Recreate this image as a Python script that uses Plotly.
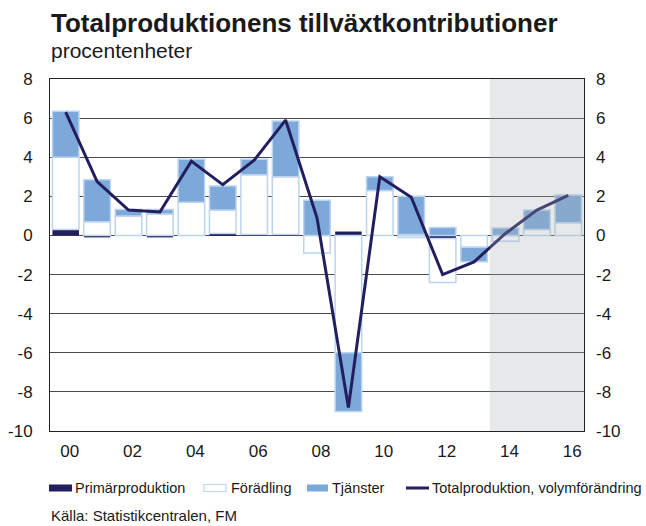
import plotly.graph_objects as go

years = list(range(2000, 2017))
tick_years = [2000, 2002, 2004, 2006, 2008, 2010, 2012, 2014, 2016]
tick_text = ["00", "02", "04", "06", "08", "10", "12", "14", "16"]

primar = [0.3, -0.1, 0.0, -0.1, 0.0, 0.1, 0.05, 0.05, 0.0, 0.2, 0.0, 0.05, -0.15, 0.0, 0.0, 0.0, 0.0]
foradling = [3.7, 0.7, 1.0, 1.1, 1.7, 1.2, 3.05, 2.95, -0.9, -6.0, 2.3, -0.1, -2.25, -0.6, -0.3, 0.3, 0.65]
tjanster = [2.35, 2.15, 0.33, 0.23, 2.2, 1.23, 0.8, 2.85, 1.8, -3.0, 0.7, 1.95, 0.4, -0.75, 0.38, 1.0, 1.42]
total = [6.3, 2.75, 1.3, 1.2, 3.8, 2.6, 3.85, 5.9, 0.9, -8.8, 3.0, 1.95, -2.0, -1.35, 0.1, 1.3, 2.05]

legend_names = ["Primärproduktion", "Förädling", "Tjänster", "Totalproduktion, volymförändring"]
y_ticks = list(range(-10, 9, 2))
y_tick_text = [str(v) for v in y_ticks]

NAVY = "#231F5E"
BLUE = "#7CA8DA"
LIGHT = "#BDD4EE"
TXT = "#1a1a1a"
FONT = "Liberation Sans, Arial, sans-serif"

W, H = 646, 526
L, R, T, B = 50, 62, 79, 95
PW, PH = W - L - R, H - T - B


def px(x):
    return (x - L) / PW


def py(y):
    return (H - B - y) / PH


fig = go.Figure()
fig.add_trace(go.Bar(x=years, y=primar, name=legend_names[0],
                     marker=dict(color=NAVY, line=dict(color=NAVY, width=0))))
fig.add_trace(go.Bar(x=years, y=foradling, name=legend_names[1],
                     marker=dict(color="white", line=dict(color=LIGHT, width=1.5))))
fig.add_trace(go.Bar(x=years, y=tjanster, name=legend_names[2],
                     marker=dict(color=BLUE, line=dict(color=LIGHT, width=1.5))))
fig.add_trace(go.Scatter(x=years, y=total, name=legend_names[3],
                         mode="lines", line=dict(color=NAVY, width=3)))
fig.add_trace(go.Scatter(x=years, y=total, yaxis="y2", mode="lines",
                         line=dict(width=0), opacity=0, showlegend=False, hoverinfo="skip"))

# forecast shading
fig.add_shape(type="rect", xref="x", yref="y", x0=2013.5, x1=2016.5, y0=-10, y1=8,
              fillcolor="rgba(170,172,176,0.28)", line=dict(width=0), layer="above")

# manual legend
ly = 488
fig.add_shape(type="rect", xref="paper", yref="paper", x0=px(49), x1=px(72), y0=py(491.5), y1=py(484.5),
              fillcolor=NAVY, line=dict(width=0))
fig.add_shape(type="rect", xref="paper", yref="paper", x0=px(204), x1=px(226), y0=py(491.5), y1=py(484.5),
              fillcolor="white", line=dict(color=LIGHT, width=1.2))
fig.add_shape(type="rect", xref="paper", yref="paper", x0=px(307), x1=px(328), y0=py(491.5), y1=py(484.5),
              fillcolor=BLUE, line=dict(width=0))
fig.add_shape(type="line", xref="paper", yref="paper", x0=px(406), x1=px(429), y0=py(ly), y1=py(ly),
              line=dict(color=NAVY, width=3))

annotations = [
    dict(text="<b>Totalproduktionens tillväxtkontributioner</b>", x=px(49), y=py(23),
         font=dict(size=26, color=TXT, family=FONT)),
    dict(text="procentenheter", x=px(49), y=py(51),
         font=dict(size=21, color=TXT, family=FONT)),
    dict(text="Källa: Statistikcentralen, FM", x=px(49), y=py(515),
         font=dict(size=15, color=TXT, family=FONT)),
]
for name, xpos in zip(legend_names, [73, 229, 330, 430]):
    annotations.append(dict(text=name, x=px(xpos), y=py(ly), font=dict(size=14.5, color=TXT, family=FONT)))
for a in annotations:
    a.update(xref="paper", yref="paper", xanchor="left", yanchor="middle", showarrow=False)

fig.update_layout(
    width=W, height=H,
    margin=dict(l=L, r=R, t=T, b=B, autoexpand=False),
    paper_bgcolor="white", plot_bgcolor="white",
    barmode="relative", bargap=0.155,
    font=dict(family=FONT, size=17, color=TXT),
    showlegend=False,
    xaxis=dict(range=[1999.5, 2016.5], tickmode="array", tickvals=tick_years, ticktext=tick_text,
               showgrid=False, zeroline=False, showline=True, linecolor="#222", linewidth=1,
               mirror=True, ticks="", ticklabelstandoff=5, ticklabelshift=4, automargin=False,
               tickfont=dict(size=17, color=TXT)),
    yaxis=dict(range=[-10, 8], tickmode="array", tickvals=y_ticks, ticktext=y_tick_text, showgrid=True,
               gridcolor="#4a4a4a", gridwidth=1, zeroline=True, zerolinecolor="#4a4a4a", zerolinewidth=1,
               showline=True, linecolor="#222", linewidth=1, mirror=True, ticks="", automargin=False,
               ticklabelstandoff=13, tickfont=dict(size=17, color=TXT)),
    yaxis2=dict(range=[-10, 8], tickmode="array", tickvals=y_ticks, ticktext=y_tick_text,
                overlaying="y", side="right",
                showgrid=False, zeroline=False, showline=False, ticks="", automargin=False,
                ticklabelstandoff=11, tickfont=dict(size=17, color=TXT)),
    annotations=annotations,
)

fig.write_html("out.html", config={"displayModeBar": False},
               post_script="document.body.style.margin='0';document.body.style.overflow='hidden';")
